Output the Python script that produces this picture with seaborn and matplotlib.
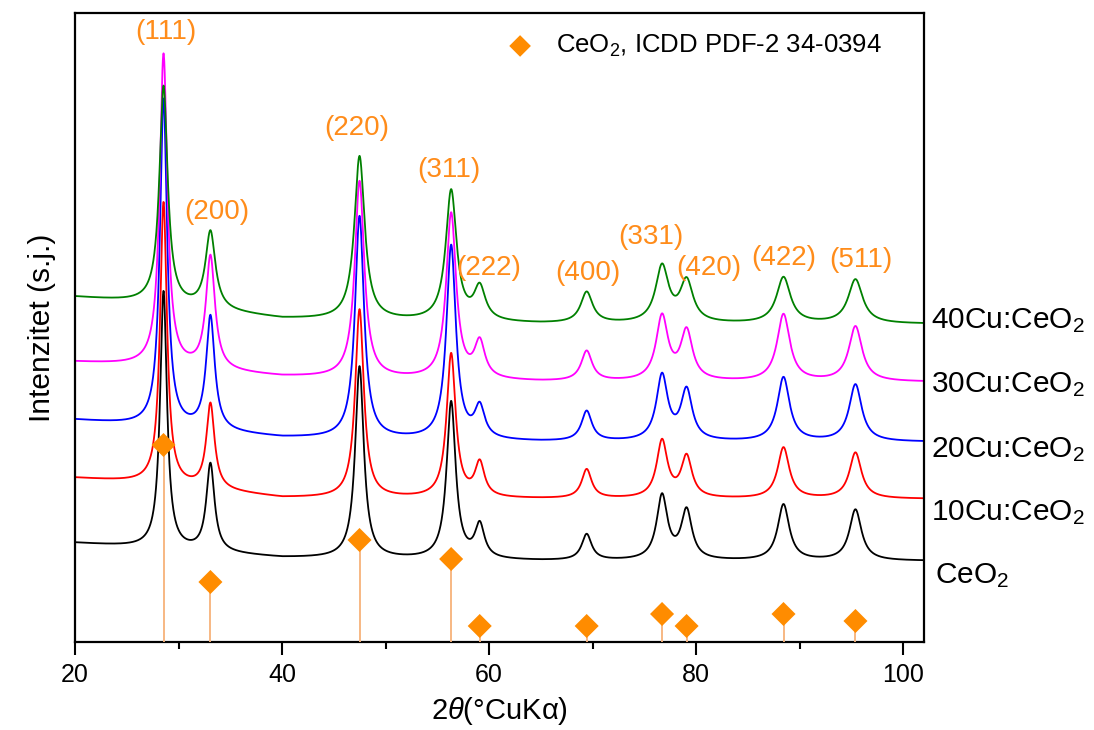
import numpy as np
import pandas as pd
import matplotlib
matplotlib.use('Agg')
import matplotlib.pyplot as plt
import seaborn as sns

sns.set_theme(style='ticks')
plt.rcParams['font.family'] = ['Liberation Sans', 'DejaVu Sans']
plt.rcParams['mathtext.fontset'] = 'custom'
plt.rcParams['mathtext.rm'] = 'Liberation Sans'
plt.rcParams['mathtext.it'] = 'Liberation Sans:italic'
for k in ['text.color', 'axes.labelcolor', 'xtick.color', 'ytick.color', 'axes.edgecolor']:
    plt.rcParams[k] = 'black'

# ---- reflections (CeO2, ICDD PDF-2 34-0394) ----
hkl = ['(111)', '(200)', '(220)', '(311)', '(222)', '(400)', '(331)', '(420)', '(422)', '(511)']
peak_pos = [28.55, 33.08, 47.48, 56.33, 59.09, 69.42, 76.70, 79.07, 88.43, 95.38]
peak_fwhm = [0.80, 0.95, 1.00, 1.05, 1.10, 1.15, 1.25, 1.25, 1.35, 1.40]
ref_height = [197, 60, 102, 83, 16, 16, 28, 16, 28, 21]

# ---- samples (intensity in arbitrary units, stacked) ----
samples = ['CeO2', '10Cu:CeO2', '20Cu:CeO2', '30Cu:CeO2', '40Cu:CeO2']
sample_labels = ['CeO$_2$', '10Cu:CeO$_2$', '20Cu:CeO$_2$', '30Cu:CeO$_2$', '40Cu:CeO$_2$']
colors = ['black', '#ff0000', '#0000ff', '#ff00ff', '#008000']
width_factor = [1.0, 1.0, 1.05, 1.1, 1.2]
# background level at bg_x for each sample
bg_x = [20, 27, 40, 65, 102]
bg = {
    'CeO2':      [99, 94, 84, 81, 81],
    '10Cu:CeO2': [164, 159, 144, 143, 143],
    '20Cu:CeO2': [222, 216, 204, 200, 200],
    '30Cu:CeO2': [280, 276, 265, 260, 260],
    '40Cu:CeO2': [345, 339, 323, 318, 318],
}
# apex of each reflection for each sample
peak_top = {
    'CeO2':      [350, 177, 275, 239, 115, 107, 145, 130, 137, 132],
    '10Cu:CeO2': [439, 237, 332, 287, 177, 172, 200, 184, 194, 189],
    '20Cu:CeO2': [542, 324, 425, 395, 232, 230, 265, 250, 264, 257],
    '30Cu:CeO2': [587, 384, 460, 427, 297, 290, 324, 309, 327, 315],
    '40Cu:CeO2': [555, 409, 485, 450, 352, 349, 374, 359, 364, 362],
}

two_theta = np.linspace(20, 102, 4100)
frames = []
for s, wf in zip(samples, width_factor):
    base = np.interp(two_theta, bg_x, bg[s])
    y = base.copy()
    for x0, w, top in zip(peak_pos, peak_fwhm, peak_top[s]):
        amp = top - np.interp(x0, bg_x, bg[s])
        hw = w * wf / 2
        y += amp * hw ** 2 / ((two_theta - x0) ** 2 + hw ** 2)
    frames.append(pd.DataFrame({'2theta': two_theta, 'I': y, 'sample': s}))
df = pd.concat(frames, ignore_index=True)

fig = plt.figure(figsize=(10.94, 7.30), dpi=100)
ax = fig.add_axes([75 / 1094, 88 / 730, 849 / 1094, 629 / 730])

sns.lineplot(data=df, x='2theta', y='I', hue='sample', hue_order=samples,
             palette=dict(zip(samples, colors)), estimator=None, sort=False,
             lw=1.3, legend=False, ax=ax)

# reference pattern: sticks + diamonds
ax.vlines(peak_pos, 0, ref_height, color='#f7b27a', lw=1.3, zorder=3)
sns.scatterplot(x=peak_pos, y=ref_height, marker='D', s=150, color='#ff8c00',
                edgecolor='none', zorder=4, ax=ax,
                label='CeO$_2$, ICDD PDF-2 34-0394')

# hkl labels
hkl_xy = [(28.8, 610), (33.7, 430), (47.2, 514), (56.1, 472), (60.0, 374),
          (69.5, 369), (75.6, 405), (81.2, 374), (88.5, 384), (95.9, 382)]
for lab, (xx, yy) in zip(hkl, hkl_xy):
    ax.text(xx, yy, lab, color='#ff8c1a', fontsize=20, ha='center', va='center')

# sample names at the right
label_y = [59, 122, 185, 250, 314]
for lab, yy, xx in zip(sample_labels, label_y, [103.1, 102.7, 102.7, 102.7, 102.7]):
    ax.text(xx, yy, lab, fontsize=21.5, ha='left', va='baseline', clip_on=False)

ax.legend(loc='upper left', bbox_to_anchor=(0.497, 0.985), frameon=False,
          fontsize=18.5, handlelength=1.0, handletextpad=0.9, borderaxespad=0,
          markerscale=0.9)

ax.set_xlim(20, 102)
ax.set_ylim(0, 629)
ax.set_xticks([20, 40, 60, 80, 100])
ax.set_xticks([30, 50, 70, 90], minor=True)
ax.set_yticks([])
ax.tick_params(axis='x', which='major', direction='out', length=9, width=1.5,
               labelsize=18, pad=6)
ax.tick_params(axis='x', which='minor', direction='out', length=5, width=1.5)
for sp in ax.spines.values():
    sp.set_visible(True)
    sp.set_linewidth(1.6)
ax.set_xlabel('2$\\mathit{\\theta}$(°CuKα)', fontsize=21, labelpad=6)
ax.set_ylabel('Intenzitet (s.j.)', fontsize=21.5, labelpad=14)

fig.savefig('out.png', dpi=100)
